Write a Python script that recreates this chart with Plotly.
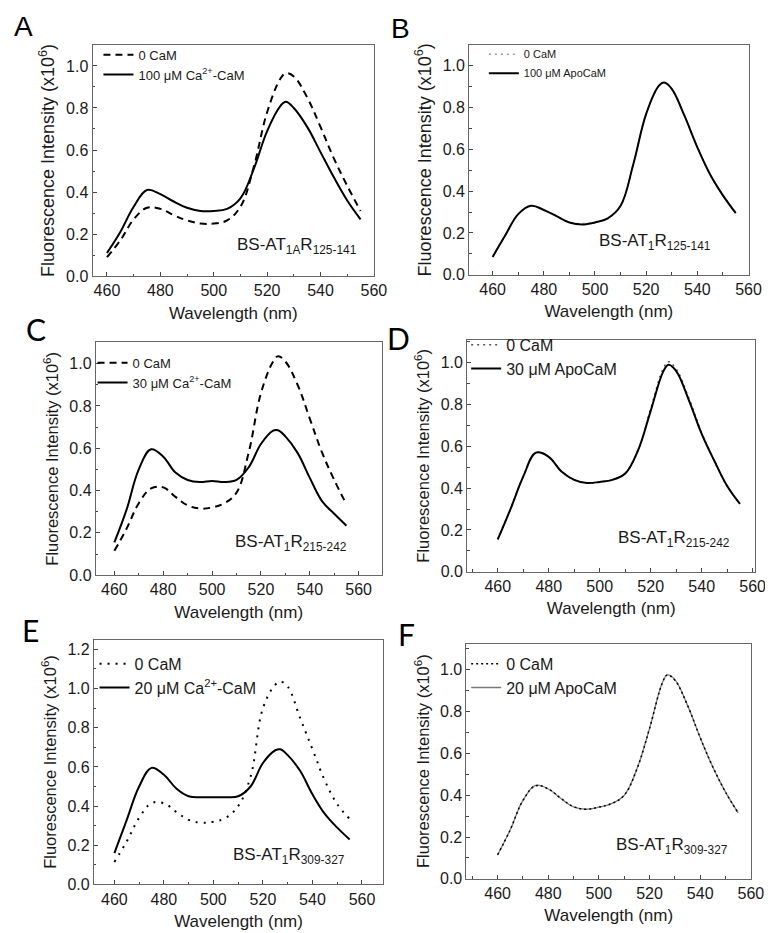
import plotly.graph_objects as go

W, H = 773, 933

# ---------------- data ----------------
wavelength = [460, 465, 470, 475, 480, 485, 490, 495, 500, 505, 510,
              515, 520, 525, 527, 530, 535, 540, 545, 550, 555]

# Panel A : BS-AT1AR125-141
a_zero_cam = [0.09, 0.17, 0.27, 0.325, 0.32, 0.29, 0.265, 0.25, 0.25, 0.265, 0.33,
              0.52, 0.78, 0.94, 0.965, 0.95, 0.85, 0.71, 0.56, 0.43, 0.31]
a_ca_cam = [0.11, 0.21, 0.33, 0.41, 0.39, 0.355, 0.325, 0.31, 0.31, 0.32, 0.37,
            0.51, 0.69, 0.81, 0.83, 0.80, 0.71, 0.59, 0.47, 0.36, 0.27]

# Panel B : BS-AT1R125-141
b_zero_cam = [0.09, 0.19, 0.29, 0.33, 0.31, 0.28, 0.25, 0.245, 0.25, 0.27, 0.33,
              0.53, 0.77, 0.905, 0.92, 0.89, 0.76, 0.61, 0.48, 0.38, 0.30]
b_apo_cam = [0.085, 0.19, 0.29, 0.33, 0.31, 0.28, 0.25, 0.24, 0.25, 0.27, 0.33,
             0.53, 0.77, 0.905, 0.92, 0.89, 0.76, 0.61, 0.48, 0.38, 0.295]

# Panel C : BS-AT1R215-242
c_zero_cam = [0.115, 0.22, 0.34, 0.41, 0.415, 0.37, 0.33, 0.315, 0.32, 0.34, 0.39,
              0.58, 0.86, 1.01, 1.035, 1.01, 0.90, 0.74, 0.58, 0.45, 0.335]
c_ca_cam = [0.155, 0.31, 0.50, 0.595, 0.56, 0.485, 0.45, 0.44, 0.445, 0.44, 0.45,
            0.51, 0.62, 0.683, 0.685, 0.656, 0.578, 0.46, 0.35, 0.29, 0.234]

# Panel D : BS-AT1R215-242
d_zero_cam = [0.155, 0.30, 0.455, 0.57, 0.55, 0.48, 0.44, 0.425, 0.43, 0.44, 0.47,
              0.58, 0.78, 0.975, 1.005, 0.97, 0.83, 0.665, 0.53, 0.41, 0.325]
d_apo_cam = [0.155, 0.30, 0.455, 0.57, 0.55, 0.48, 0.44, 0.425, 0.43, 0.44, 0.47,
             0.58, 0.77, 0.96, 0.99, 0.96, 0.82, 0.66, 0.53, 0.41, 0.325]

# Panel E : BS-AT1R309-327
e_zero_cam = [0.115, 0.22, 0.34, 0.415, 0.415, 0.37, 0.33, 0.315, 0.32, 0.34, 0.40,
              0.55, 0.90, 1.02, 1.035, 1.01, 0.85, 0.69, 0.53, 0.41, 0.335]
e_ca_cam = [0.16, 0.33, 0.50, 0.595, 0.56, 0.49, 0.45, 0.445, 0.445, 0.445, 0.45,
            0.50, 0.62, 0.685, 0.69, 0.66, 0.58, 0.46, 0.36, 0.29, 0.23]

# Panel F : BS-AT1R309-327
f_zero_cam = [0.115, 0.235, 0.375, 0.445, 0.43, 0.385, 0.345, 0.333, 0.343, 0.36, 0.40,
              0.525, 0.72, 0.935, 0.975, 0.95, 0.83, 0.675, 0.535, 0.415, 0.315]
f_apo_cam = [0.115, 0.235, 0.375, 0.447, 0.43, 0.384, 0.344, 0.333, 0.343, 0.36, 0.40,
             0.526, 0.72, 0.937, 0.976, 0.953, 0.83, 0.676, 0.534, 0.415, 0.316]

x_ticks = [460, 480, 500, 520, 540, 560]
y_tick_step = 0.2

FONT = "Liberation Sans, Arial, sans-serif"
LETTER_FONT = "Lato, Liberation Sans, sans-serif"
INK = "#1a1a1a"


def px(v):
    return v / W


def py(v):
    return 1 - v / H


panels = [
    dict(letter="A", ax="", x=(86, 372.3), y=(37.3, 270.7), xr=[454.6, 560.05], yr=[0, 1.1],
         label="BS-AT<sub>1A</sub>R<sub>125-141</sub>", lab=(231, 240),
         letter_pos=(16, 19), letter_font="Liberation Sans, sans-serif", letter_size=28,
         leg=(92, 32), legfont=13, ytitle=18,
         series=[
             dict(y=a_zero_cam, name="0 CaM", color="black", width=2, dash="7px,5px"),
             dict(y=a_ca_cam, name="100 \u03bcM Ca<sup>2+</sup>-CaM", color="black", width=2, dash="solid"),
         ]),
    dict(letter="B", ax="2", x=(469, 753.3), y=(37.3, 269.3), xr=[450.8, 560.05], yr=[0, 1.1],
         label="BS-AT<sub>1</sub>R<sub>125-141</sub>", lab=(599, 236),
         letter_pos=(399, 21), letter_font="Liberation Sans, sans-serif", letter_size=28,
         leg=(484, 32), legfont=11, ytitle=18,
         series=[
             dict(y=b_zero_cam, name="0 CaM", color="#9a9a9a", width=1.5, dash="2px,4px"),
             dict(y=b_apo_cam, name="100 \u03bcM ApoCaM", color="black", width=2, dash="solid"),
         ]),
    dict(letter="C", ax="3", x=(89.3, 380), y=(337.7, 572.7), xr=[452.4, 569.4], yr=[0, 1.1],
         label="BS-AT<sub>1</sub>R<sub>215-242</sub>", lab=(229, 540),
         letter_pos=(28, 324), letter_font=LETTER_FONT, letter_size=30,
         leg=(86, 343), legfont=13, ytitle=16.5,
         series=[
             dict(y=c_zero_cam, name="0 CaM", color="black", width=2, dash="7px,5px"),
             dict(y=c_ca_cam, name="30 \u03bcM Ca<sup>2+</sup>-CaM", color="black", width=2, dash="solid"),
         ]),
    dict(letter="D", ax="4", x=(467, 760), y=(335, 569.3), xr=[448, 561], yr=[0, 1.11],
         label="BS-AT<sub>1</sub>R<sub>215-242</sub>", lab=(618, 536),
         letter_pos=(397, 333), letter_font=LETTER_FONT, letter_size=30,
         leg=(466, 323), legfont=16, ytitle=16.5,
         series=[
             dict(y=d_zero_cam, name="0 CaM", color="#555555", width=1.5, dash="2px,4px"),
             dict(y=d_apo_cam, name="30 \u03bcM ApoCaM", color="black", width=2, dash="solid"),
         ]),
    dict(letter="E", ax="5", x=(87.3, 381.7), y=(637.7, 885), xr=[451.7, 568.6], yr=[0, 1.25],
         label="BS-AT<sub>1</sub>R<sub>309-327</sub>", lab=(227, 856),
         letter_pos=(23, 628), letter_font=LETTER_FONT, letter_size=30,
         leg=(88, 645), legfont=16, ytitle=16.5,
         series=[
             dict(y=e_zero_cam, name="0 CaM", color="black", width=2, dash="2px,6px"),
             dict(y=e_ca_cam, name="20 \u03bcM Ca<sup>2+</sup>-CaM", color="black", width=2, dash="solid"),
         ]),
    dict(letter="F", ax="6", x=(466.3, 755.7), y=(641.7, 879.3), xr=[447.7, 560.05], yr=[0, 1.126],
         label="BS-AT<sub>1</sub>R<sub>309-327</sub>", lab=(616, 846),
         letter_pos=(405, 632), letter_font=LETTER_FONT, letter_size=30,
         leg=(466, 645), legfont=16, ytitle=16.5,
         series=[
             dict(y=f_apo_cam, name="20 \u03bcM ApoCaM", color="#7a7a7a", width=1.3, dash="solid", order=1),
             dict(y=f_zero_cam, name="0 CaM", color="black", width=1.5, dash="2px,3px", order=0),
         ]),
]

fig = go.Figure()
layout = dict(
    width=W, height=H, margin=dict(l=0, r=0, t=0, b=0),
    paper_bgcolor="white", plot_bgcolor="white",
    font=dict(family=FONT, color=INK),
    annotations=[],
)

for i, p in enumerate(panels):
    ax = p["ax"]
    legname = "legend" if i == 0 else f"legend{i + 1}"
    for s in p["series"]:
        fig.add_trace(go.Scatter(
            x=wavelength, y=s["y"], mode="lines", name=s["name"],
            line=dict(color=s["color"], width=s["width"], dash=s["dash"], shape="spline", smoothing=1.1),
            xaxis="x" + ax, yaxis="y" + ax, legend=legname,
            legendrank=s.get("order", 0) + 1,
        ))
    axis_common = dict(
        ticks="inside", ticklen=4, tickwidth=1, tickcolor="#444",
        showline=True, linecolor="#666", linewidth=1, mirror=True,
        showgrid=False, zeroline=False,
        tickfont=dict(size=16, family=FONT, color=INK),
    )
    layout["xaxis" + ax] = dict(
        domain=[px(p["x"][0]), px(p["x"][1])], range=p["xr"], anchor="y" + ax,
        tickmode="array", tickvals=x_ticks,
        minor=dict(dtick=10, tick0=460, ticks="inside", ticklen=2.5, tickcolor="#444"),
        title=dict(text="Wavelength (nm)", font=dict(size=17, family=FONT, color=INK), standoff=8),
        **axis_common,
    )
    layout["yaxis" + ax] = dict(
        domain=[py(p["y"][1]), py(p["y"][0])], range=p["yr"], anchor="x" + ax,
        tick0=0, dtick=y_tick_step, tickformat=".1f",
        minor=dict(dtick=0.1, tick0=0, ticks="inside", ticklen=2.5, tickcolor="#444"),
        title=dict(text="Fluorescence Intensity (x10<sup>6</sup>)",
                   font=dict(size=p["ytitle"], family=FONT, color=INK), standoff=6),
        **axis_common,
    )
    layout[legname] = dict(
        x=px(p["leg"][0]), y=py(p["leg"][1]), xanchor="left", yanchor="top",
        xref="paper", yref="paper", bgcolor="rgba(0,0,0,0)",
        font=dict(size=p["legfont"], family=FONT, color=INK),
        traceorder="normal", tracegroupgap=0, itemwidth=30,
    )
    layout["annotations"].append(dict(
        text=p["letter"], x=px(p["letter_pos"][0]), y=py(p["letter_pos"][1]),
        xref="paper", yref="paper", showarrow=False, xanchor="center", yanchor="middle",
        font=dict(size=p["letter_size"], family=p["letter_font"], color="black"),
    ))
    layout["annotations"].append(dict(
        text=p["label"], x=px(p["lab"][0]), y=py(p["lab"][1]),
        xref="paper", yref="paper", showarrow=False, xanchor="left", yanchor="middle",
        font=dict(size=17, family=FONT, color=INK),
    ))

fig.update_layout(**layout)
fig.write_html("out.html")
